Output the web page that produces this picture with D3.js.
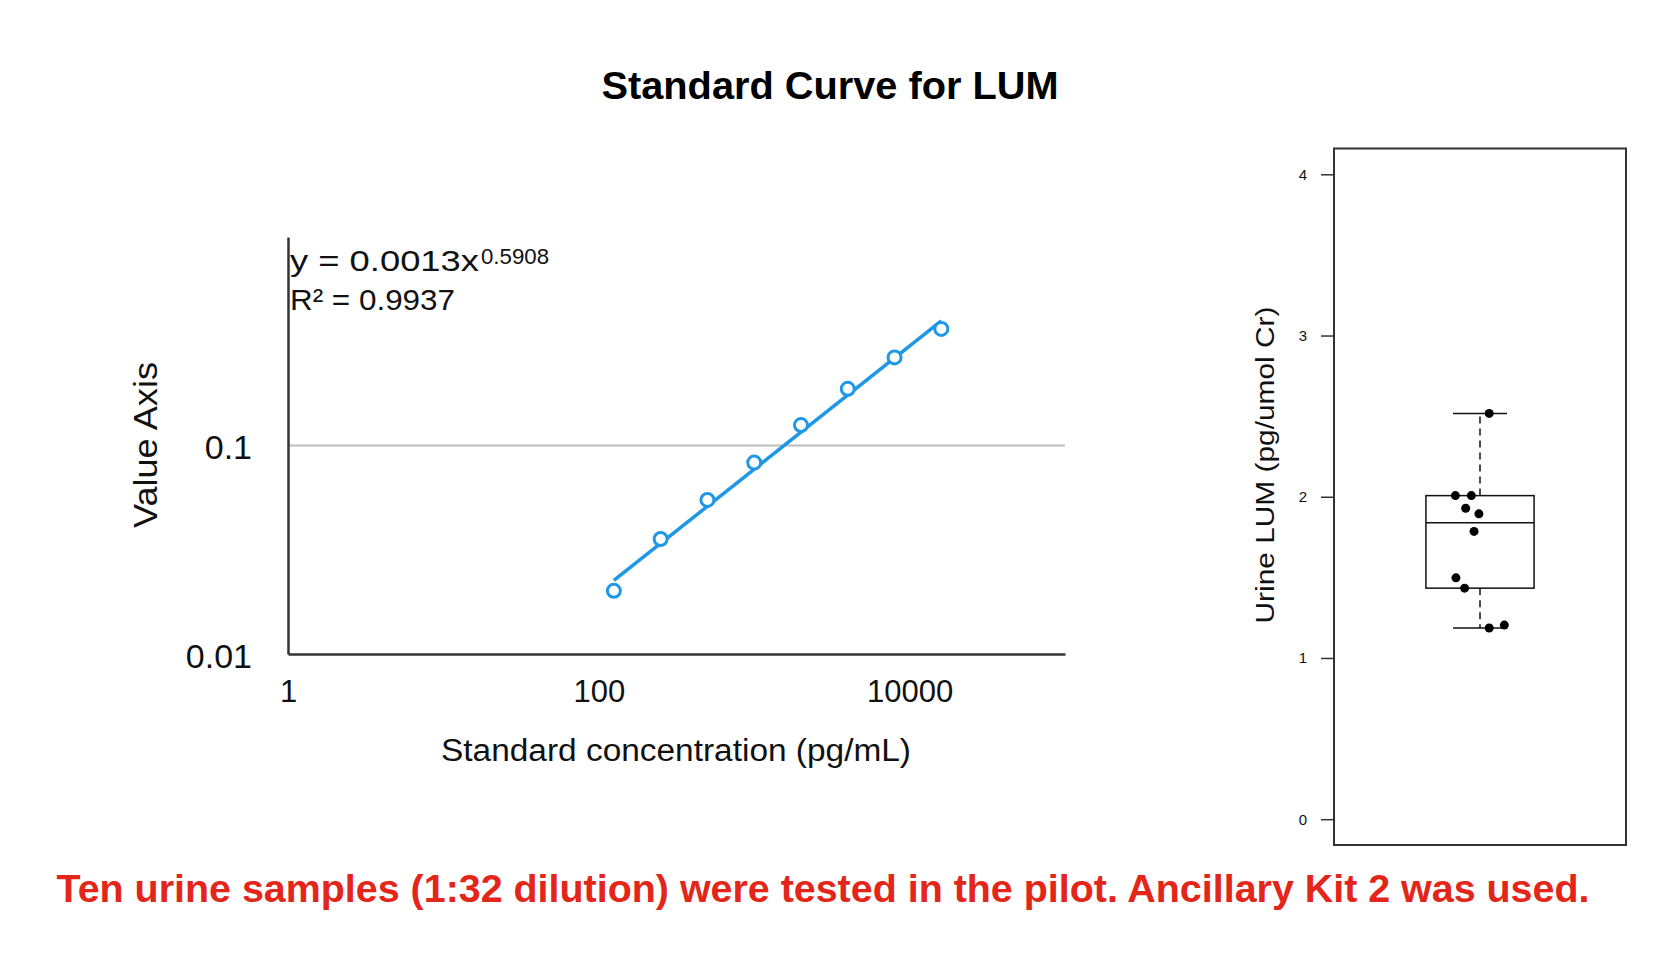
<!DOCTYPE html>
<html>
<head>
<meta charset="utf-8">
<script src="https://cdn.jsdelivr.net/npm/d3@7"></script>
<style>
  body { margin: 0; background: #fff; }
  svg text { font-family: "Liberation Sans", Arial, Helvetica, sans-serif; }
</style>
</head>
<body>
<div id="chart"></div>
<script>
// Standard curve data (concentration in pg/mL vs value)
var stdConc = [125, 250, 500, 1000, 2000, 4000, 8000, 16000];
var stdValue = [0.0201, 0.0356, 0.0548, 0.0828, 0.1253, 0.187, 0.2646, 0.3624];
// power fit shown on the chart
var fitA = 0.0013;
var fitB = 0.5908;
var fitR2 = 0.9937;
var xTicks = [1, 100, 10000];
var yTicks = [0.01, 0.1];

// Urine LUM for ten pilot samples, with their jitter position around the box
var urineLUM = [2.517, 2.007, 2.007, 1.929, 1.894, 1.785, 1.497, 1.433, 1.186, 1.204];
var urineJitter = [1.034, 0.909, 0.968, 0.947, 0.996, 0.978, 0.911, 0.943, 1.034, 1.090];
var boxTicks = [0, 1, 2, 3, 4];

var svgWidth = 1656;
var svgHeight = 960;
var blue = "#1e97e6";

var svg = d3.select("#chart")
  .append("svg")
  .attr("width", svgWidth)
  .attr("height", svgHeight);

// Title
svg.append("text")
  .attr("x", 830)
  .attr("y", 99)
  .attr("text-anchor", "middle")
  .attr("textLength", 457)
  .attr("lengthAdjust", "spacingAndGlyphs")
  .style("font-size", "38px")
  .style("font-weight", "bold")
  .text("Standard Curve for LUM");

// ---------- left: standard curve on log/log axes ----------
var xLog = d3.scaleLog().domain([1, 100000]).range([288, 1065]);
var yLog = d3.scaleLog().domain([0.01, 1]).range([654, 237]);

// gridline at 0.1
svg.append("line")
  .attr("x1", xLog(1)).attr("x2", xLog(100000))
  .attr("y1", yLog(0.1)).attr("y2", yLog(0.1))
  .attr("stroke", "#bdbdbd")
  .attr("stroke-width", 2);

var bottomAxis = d3.axisBottom(xLog)
  .tickValues(xTicks)
  .tickFormat(d => String(d))
  .tickSize(0)
  .tickSizeOuter(0);

var leftAxis = d3.axisLeft(yLog)
  .tickValues(yTicks)
  .tickFormat(d => String(d))
  .tickSize(0)
  .tickSizeOuter(0)
  .tickPadding(36);

var xg = svg.append("g")
  .attr("transform", `translate(0, ${yLog(0.01)})`)
  .call(bottomAxis);
xg.select(".domain").attr("stroke", "#333").attr("stroke-width", 2.5);
xg.selectAll("text")
  .attr("y", 48)
  .attr("dy", 0)
  .attr("fill", "#111")
  .style("font-size", "31px");

var yg = svg.append("g")
  .attr("transform", `translate(${xLog(1)}, 0)`)
  .call(leftAxis);
yg.select(".domain").attr("stroke", "#333").attr("stroke-width", 2.5);
yg.selectAll("text")
  .attr("dy", 13)
  .attr("fill", "#111")
  .style("font-size", "34px");

// axis titles
svg.append("text")
  .attr("x", 676)
  .attr("y", 761)
  .attr("text-anchor", "middle")
  .attr("textLength", 470)
  .attr("lengthAdjust", "spacingAndGlyphs")
  .attr("fill", "#111")
  .style("font-size", "31px")
  .text("Standard concentration (pg/mL)");

svg.append("text")
  .attr("transform", "translate(157, 445) rotate(-90)")
  .attr("text-anchor", "middle")
  .attr("textLength", 166)
  .attr("lengthAdjust", "spacingAndGlyphs")
  .attr("fill", "#111")
  .style("font-size", "34px")
  .text("Value Axis");

// trend line from the fitted power curve
var fitLine = d3.line()
  .x(d => xLog(d))
  .y(d => yLog(fitA * Math.pow(d, fitB)));

svg.append("path")
  .datum([stdConc[0], stdConc[stdConc.length - 1]])
  .attr("d", fitLine)
  .attr("fill", "none")
  .attr("stroke", blue)
  .attr("stroke-width", 3.5);

// standard points
svg.selectAll(".std")
  .data(stdConc)
  .enter()
  .append("circle")
  .attr("class", "std")
  .attr("cx", d => xLog(d))
  .attr("cy", (d, i) => yLog(stdValue[i]))
  .attr("r", 6.5)
  .attr("fill", "#fff")
  .attr("stroke", blue)
  .attr("stroke-width", 3);

// equation text
svg.append("text")
  .attr("x", 290)
  .attr("y", 271)
  .attr("textLength", 189)
  .attr("lengthAdjust", "spacingAndGlyphs")
  .attr("fill", "#111")
  .style("font-size", "30px")
  .text("y = " + fitA + "x");

svg.append("text")
  .attr("x", 481)
  .attr("y", 264)
  .attr("textLength", 68)
  .attr("lengthAdjust", "spacingAndGlyphs")
  .attr("fill", "#111")
  .style("font-size", "22px")
  .text(String(fitB));

svg.append("text")
  .attr("x", 290)
  .attr("y", 310)
  .attr("textLength", 165)
  .attr("lengthAdjust", "spacingAndGlyphs")
  .attr("fill", "#111")
  .style("font-size", "30px")
  .text("R\u00B2 = " + fitR2);

// ---------- right: box plot of urine LUM ----------
var xBox = d3.scaleLinear().domain([0.46, 1.54]).range([1334, 1626]);
var yBox = d3.scaleLinear().domain([-0.16, 4.16]).range([845, 148.5]);

var sorted = urineLUM.slice().sort(d3.ascending);
var n = sorted.length;
var half = Math.floor((n + 1) / 2);
var lowerHinge = d3.median(sorted.slice(0, half));
var upperHinge = d3.median(sorted.slice(n - half));
var med = d3.median(sorted);
var iqr = upperHinge - lowerHinge;
var whiskLo = d3.min(sorted.filter(d => d >= lowerHinge - 1.5 * iqr));
var whiskHi = d3.max(sorted.filter(d => d <= upperHinge + 1.5 * iqr));

// frame
svg.append("rect")
  .attr("x", xBox(0.46))
  .attr("y", yBox(4.16))
  .attr("width", xBox(1.54) - xBox(0.46))
  .attr("height", yBox(-0.16) - yBox(4.16))
  .attr("fill", "none")
  .attr("stroke", "#333")
  .attr("stroke-width", 2);

var boxAxis = d3.axisLeft(yBox)
  .tickValues(boxTicks)
  .tickFormat(d3.format("d"))
  .tickSize(13)
  .tickPadding(8)
  .tickSizeOuter(0);

var bg = svg.append("g")
  .attr("transform", `translate(${xBox(0.46)}, 0)`)
  .call(boxAxis);
bg.select(".domain").remove();
bg.selectAll("line").attr("stroke", "#333").attr("stroke-width", 1.5);
bg.selectAll("text")
  .attr("x", -31)
  .attr("text-anchor", "middle")
  .attr("fill", "#111")
  .style("font-size", "15px");

svg.append("text")
  .attr("transform", "translate(1274, 465) rotate(-90)")
  .attr("text-anchor", "middle")
  .attr("textLength", 317)
  .attr("lengthAdjust", "spacingAndGlyphs")
  .attr("fill", "#111")
  .style("font-size", "26px")
  .text("Urine LUM (pg/umol Cr)");

// whiskers
[[upperHinge, whiskHi], [lowerHinge, whiskLo]].forEach(function (w) {
  svg.append("line")
    .attr("x1", xBox(1)).attr("x2", xBox(1))
    .attr("y1", yBox(w[0])).attr("y2", yBox(w[1]))
    .attr("stroke", "#111")
    .attr("stroke-width", 1.5)
    .attr("stroke-dasharray", "7,5");
  svg.append("line")
    .attr("x1", xBox(0.9)).attr("x2", xBox(1.1))
    .attr("y1", yBox(w[1])).attr("y2", yBox(w[1]))
    .attr("stroke", "#111")
    .attr("stroke-width", 1.5);
});

// box and median
svg.append("rect")
  .attr("x", xBox(0.8))
  .attr("y", yBox(upperHinge))
  .attr("width", xBox(1.2) - xBox(0.8))
  .attr("height", yBox(lowerHinge) - yBox(upperHinge))
  .attr("fill", "#fff")
  .attr("stroke", "#111")
  .attr("stroke-width", 1.5);

svg.append("line")
  .attr("x1", xBox(0.8)).attr("x2", xBox(1.2))
  .attr("y1", yBox(med)).attr("y2", yBox(med))
  .attr("stroke", "#111")
  .attr("stroke-width", 1.5);

// sample points
svg.selectAll(".sample")
  .data(urineLUM)
  .enter()
  .append("circle")
  .attr("class", "sample")
  .attr("cx", (d, i) => xBox(urineJitter[i]))
  .attr("cy", d => yBox(d))
  .attr("r", 4.5)
  .attr("fill", "#000");

// footnote
svg.append("text")
  .attr("x", 823)
  .attr("y", 902)
  .attr("text-anchor", "middle")
  .attr("textLength", 1533)
  .attr("lengthAdjust", "spacingAndGlyphs")
  .attr("fill", "#e4261a")
  .style("font-size", "39px")
  .style("font-weight", "bold")
  .text("Ten urine samples (1:32 dilution) were tested in the pilot. Ancillary Kit 2 was used.");
</script>
</body>
</html>
